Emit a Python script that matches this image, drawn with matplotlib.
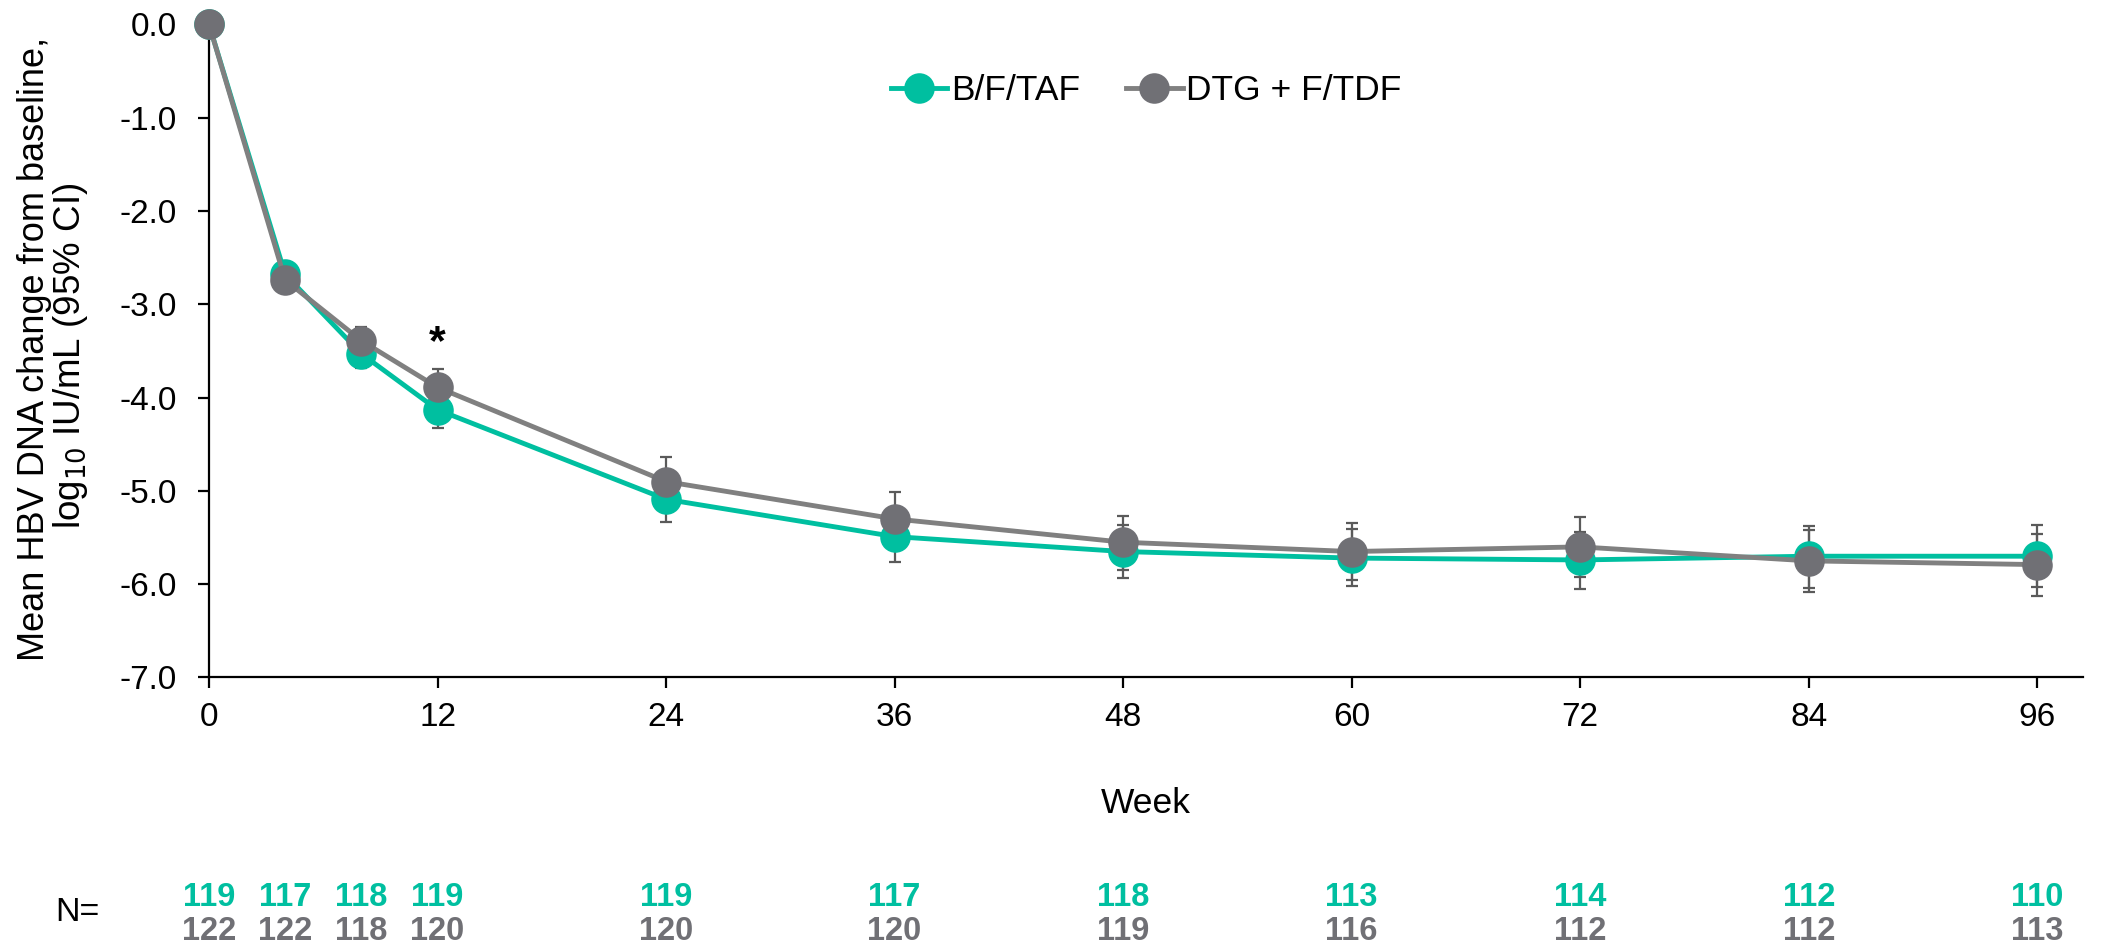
import matplotlib
matplotlib.use('Agg')
import matplotlib.pyplot as plt
import matplotlib.transforms as mtransforms
from matplotlib.lines import Line2D

plt.rcParams['font.family'] = ['Liberation Sans', 'DejaVu Sans']
plt.rcParams['axes.unicode_minus'] = False

# Semaines de suivi et variation moyenne de l'ADN du VHB (log10 UI/mL)
weeks = [0, 4, 8, 12, 24, 36, 48, 60, 72, 84, 96]

bft_mean = [0.0, -2.68, -3.53, -4.13, -5.09, -5.49, -5.65, -5.72, -5.74, -5.70, -5.70]
bft_lo = [0.0, -2.78, -3.68, -4.33, -5.33, -5.76, -5.93, -6.02, -6.05, -6.04, -6.03]
bft_hi = [0.0, -2.58, -3.38, -3.93, -4.85, -5.22, -5.37, -5.41, -5.44, -5.38, -5.37]

dtg_mean = [0.0, -2.74, -3.39, -3.89, -4.90, -5.30, -5.55, -5.65, -5.60, -5.75, -5.79]
dtg_lo = [0.0, -2.84, -3.54, -4.09, -5.16, -5.59, -5.85, -5.95, -5.92, -6.08, -6.13]
dtg_hi = [0.0, -2.64, -3.24, -3.69, -4.64, -5.01, -5.27, -5.34, -5.28, -5.42, -5.46]

# Effectifs par semaine
n_bft = [119, 117, 118, 119, 119, 117, 118, 113, 114, 112, 110]
n_dtg = [122, 122, 118, 120, 120, 120, 119, 116, 112, 112, 113]

xticks = [0, 12, 24, 36, 48, 60, 72, 84, 96]
yticks = [0, -1, -2, -3, -4, -5, -6, -7]

teal = '#00BFA0'
gris_ligne = '#808080'
gris_point = '#707075'
gris_barre = '#5A5A5A'

W, H = 2107, 951
fig = plt.figure(figsize=(W / 100, H / 100), dpi=100)
ax = fig.add_axes([0.0992, 0.2876, 0.8894, 0.6867])

# Barres d'erreur (IC 95 %), sans la semaine 0
for mean, lo, hi in [(bft_mean, bft_lo, bft_hi), (dtg_mean, dtg_lo, dtg_hi)]:
    err_bas = [m - l for m, l in zip(mean[1:], lo[1:])]
    err_haut = [h - m for m, h in zip(mean[1:], hi[1:])]
    ax.errorbar(weeks[1:], mean[1:], yerr=[err_bas, err_haut], fmt='none',
                ecolor=gris_barre, elinewidth=1.6, capsize=4.5, capthick=1.6, zorder=2)

ax.plot(weeks, bft_mean, color=teal, lw=3.5, marker='o', markersize=22,
        markerfacecolor=teal, markeredgecolor=teal, markeredgewidth=0,
        zorder=3, clip_on=False)
ax.plot(weeks, dtg_mean, color=gris_ligne, lw=3.5, marker='o', markersize=22,
        markerfacecolor=gris_point, markeredgecolor=gris_point, markeredgewidth=0,
        zorder=4, clip_on=False)

ax.text(12, -3.42, '*', ha='center', va='center', fontsize=31, fontweight='bold', color='black')

ax.set_xlim(0, 98.4)
ax.set_ylim(-7, 0)
ax.set_xticks(xticks)
ax.set_yticks(yticks)
ax.set_yticklabels([f'{v:.1f}' for v in yticks])
ax.tick_params(axis='both', direction='out', length=8, width=1.6, labelsize=24, colors='black')
ax.tick_params(axis='x', pad=10)
ax.tick_params(axis='y', pad=15)
for side in ['top', 'right']:
    ax.spines[side].set_visible(False)
for side in ['left', 'bottom']:
    ax.spines[side].set_linewidth(1.6)

# Légende
handles = [
    Line2D([0], [0], color=teal, lw=3.5, marker='o', markersize=22,
           markerfacecolor=teal, markeredgewidth=0),
    Line2D([0], [0], color=gris_ligne, lw=3.5, marker='o', markersize=22,
           markerfacecolor=gris_point, markeredgewidth=0),
]
ax.legend(handles, ['B/F/TAF', 'DTG + F/TDF'], loc='center', bbox_to_anchor=(0.5, 0.899),
          ncol=2, frameon=False, fontsize=25.5, handlelength=1.6, handletextpad=0.1,
          columnspacing=1.3)

# Titres des axes (ancrés sur la ligne de base)
fig.text(44 / W, 1 - 349 / H, 'Mean HBV DNA change from baseline,', rotation=90,
         rotation_mode='anchor', ha='center', va='baseline', fontsize=26)
fig.text(80 / W, 1 - 356 / H, 'log$_{10}$ IU/mL (95% CI)', rotation=90,
         rotation_mode='anchor', ha='center', va='baseline', fontsize=26.5)
fig.text(0.544, 0.1556, 'Week', ha='center', va='center', fontsize=25.5)

# Effectifs sous le graphique
trans = mtransforms.blended_transform_factory(ax.transData, fig.transFigure)
fig.text(0.0366, 0.040, 'N=', ha='center', va='center', fontsize=24.5)
police_n = ['Liberation Sans Narrow', 'Liberation Sans']
for w, a, b in zip(weeks, n_bft, n_dtg):
    ax.text(w, 0.056, str(a), transform=trans, ha='center', va='center', fontsize=23.5,
            fontweight='bold', color=teal, family=police_n, clip_on=False)
    ax.text(w, 0.020, str(b), transform=trans, ha='center', va='center', fontsize=23.5,
            fontweight='bold', color=gris_point, family=police_n, clip_on=False)

fig.savefig('out.png', dpi=100)
